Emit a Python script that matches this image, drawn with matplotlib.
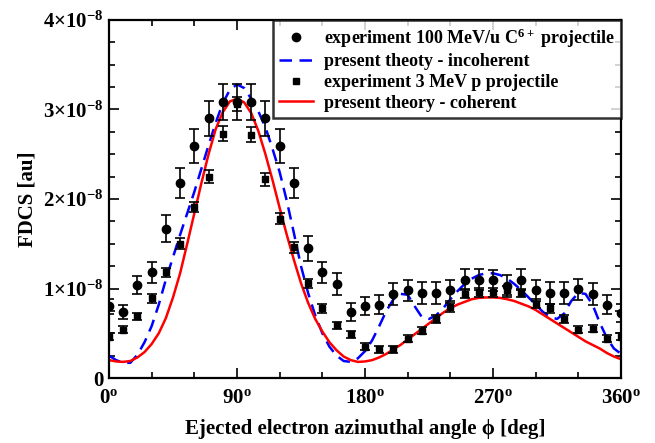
import matplotlib
matplotlib.use("Agg")
import matplotlib.pyplot as plt
from matplotlib.lines import Line2D
import numpy as np

plt.rcParams['font.family'] = ['Liberation Serif', 'DejaVu Serif']
plt.rcParams['font.weight'] = 'bold'
plt.rcParams['mathtext.fontset'] = 'custom'
plt.rcParams['mathtext.rm'] = 'Liberation Serif:bold'
plt.rcParams['mathtext.it'] = 'Liberation Serif:bold'
plt.rcParams['mathtext.bf'] = 'Liberation Serif:bold'

# data in units of 1e-8 au
angles_exp = np.arange(0, 361, 10)
carbon_fdcs = [0.80, 0.74, 1.04, 1.18, 1.67, 2.18, 2.59, 2.90, 3.08, 3.08, 3.08, 2.90,
               2.59, 2.18, 1.45, 1.18, 1.05, 0.74, 0.80, 0.82, 0.94, 0.98, 0.95, 0.95,
               0.98, 1.10, 1.10, 1.09, 1.03, 1.10, 0.98, 0.95, 0.95, 0.99, 0.94, 0.82, 0.73]
carbon_err = [0.08, 0.08, 0.10, 0.12, 0.15, 0.17, 0.19, 0.20, 0.20, 0.20, 0.20, 0.20,
              0.19, 0.17, 0.14, 0.12, 0.12, 0.10, 0.10, 0.11, 0.12, 0.12, 0.12, 0.12,
              0.12, 0.12, 0.12, 0.12, 0.12, 0.12, 0.12, 0.12, 0.12, 0.12, 0.12, 0.11, 0.10]
proton_fdcs = [0.46, 0.54, 0.69, 0.89, 1.18, 1.50, 1.91, 2.25, 2.73, 3.06, 2.72, 2.22,
               1.78, 1.46, 1.06, 0.78, 0.59, 0.49, 0.35, 0.32, 0.32, 0.44, 0.53, 0.66,
               0.79, 0.94, 0.96, 0.96, 0.98, 0.95, 0.83, 0.78, 0.66, 0.54, 0.55, 0.44, 0.46]
proton_err = [0.04, 0.04, 0.04, 0.05, 0.05, 0.06, 0.06, 0.07, 0.08, 0.08, 0.08, 0.07,
              0.06, 0.06, 0.05, 0.05, 0.04, 0.04, 0.04, 0.04, 0.04, 0.04, 0.04, 0.04,
              0.05, 0.05, 0.05, 0.05, 0.05, 0.05, 0.05, 0.05, 0.04, 0.04, 0.04, 0.04, 0.04]

angles_theory = np.arange(0, 361, 5)
incoherent = [0.25, 0.20, 0.17, 0.17, 0.26, 0.40, 0.58, 0.82, 1.10, 1.35, 1.60, 1.84,
              2.08, 2.34, 2.60, 2.85, 3.07, 3.22, 3.28, 3.24, 3.12, 2.98, 2.80, 2.56,
              2.30, 1.98, 1.62, 1.25, 0.95, 0.70, 0.50, 0.35, 0.25, 0.19, 0.18, 0.22,
              0.30, 0.42, 0.58, 0.75, 0.88, 0.94, 0.93, 0.80, 0.68, 0.66, 0.70, 0.78,
              0.88, 0.97, 1.05, 1.11, 1.15, 1.17, 1.17, 1.15, 1.11, 1.05, 0.98, 0.90,
              0.82, 0.74, 0.68, 0.66, 0.72, 0.86, 0.95, 0.94, 0.82, 0.62, 0.45, 0.33, 0.27]
coherent = [0.20, 0.185, 0.18, 0.19, 0.23, 0.29, 0.38, 0.50, 0.67, 0.90, 1.17, 1.50,
            1.84, 2.18, 2.50, 2.78, 2.97, 3.09, 3.12, 3.08, 2.96, 2.76, 2.50, 2.21,
            1.90, 1.60, 1.32, 1.06, 0.84, 0.66, 0.52, 0.40, 0.31, 0.24, 0.20, 0.18,
            0.185, 0.20, 0.23, 0.27, 0.32, 0.37, 0.43, 0.49, 0.55, 0.61, 0.67, 0.73,
            0.78, 0.82, 0.85, 0.88, 0.895, 0.90, 0.90, 0.895, 0.88, 0.86, 0.83, 0.80,
            0.76, 0.71, 0.66, 0.61, 0.56, 0.51, 0.46, 0.41, 0.37, 0.33, 0.28, 0.24, 0.21]

xtick_vals = [0, 90, 180, 270, 360]
xtick_labels = [r'$0^{\mathrm{o}}$', r'$90^{\mathrm{o}}$', r'$180^{\mathrm{o}}$',
                r'$270^{\mathrm{o}}$', r'$360^{\mathrm{o}}$']
ytick_vals = [0, 1, 2, 3, 4]
ytick_labels = ['0', r'$1{\times}10^{-8}$', r'$2{\times}10^{-8}$',
                r'$3{\times}10^{-8}$', r'$4{\times}10^{-8}$']
legend_labels = [r'experiment 100 MeV/u C$^{6+}$ projectile', 'present theoty - incoherent',
                 'experiment 3 MeV p projectile', 'present theory - coherent']

fig = plt.figure(figsize=(6.55, 4.43), dpi=100)
ax = fig.add_axes([0.1664, 0.1467, 0.7817, 0.8082])

ax.errorbar(angles_exp, carbon_fdcs, yerr=carbon_err, fmt='o', color='black',
            markersize=6, capsize=3.5, elinewidth=1.2, capthick=1.2, zorder=3)
ax.plot(angles_theory, incoherent, color='#0000ff', lw=1.8, dashes=(5, 3), zorder=2)
ax.errorbar(angles_exp, proton_fdcs, yerr=proton_err, fmt='s', color='black',
            markersize=5, capsize=3.5, elinewidth=1.2, capthick=1.2, zorder=3)
ax.plot(angles_theory, coherent, color='#ff0000', lw=1.8, zorder=2)

ax.set_xlim(0, 360)
ax.set_ylim(0, 4)
ax.set_xticks(xtick_vals)
ax.set_xticklabels(xtick_labels, fontsize=15)
ax.set_xticks(np.arange(0, 361, 30), minor=True)
ax.set_yticks(ytick_vals)
ax.set_yticklabels(ytick_labels, fontsize=15)
ax.set_yticks(np.arange(0, 4.01, 0.25), minor=True)
ax.tick_params(which='both', direction='in', top=True, right=True, width=1.2)
ax.tick_params(which='major', length=7)
ax.tick_params(axis='x', which='major', pad=7)
ax.tick_params(axis='y', which='major', pad=4)
ax.tick_params(which='minor', length=4)
for s in ax.spines.values():
    s.set_linewidth(1.6)

ax.set_xlabel('Ejected electron azimuthal angle \u03d5 [deg]', fontsize=15,
              fontweight='bold', labelpad=8)
ax.set_ylabel('FDCS [au]', fontsize=15, fontweight='bold')

# legend shows markers without error bars
handles = [Line2D([], [], ls='none', marker='o', color='black', markersize=6),
           Line2D([], [], color='#0000ff', lw=1.8, dashes=(5, 3)),
           Line2D([], [], ls='none', marker='s', color='black', markersize=5),
           Line2D([], [], color='#ff0000', lw=1.8)]
leg = ax.legend(handles, legend_labels,
                loc='upper right', fontsize=13, frameon=True, fancybox=False,
                borderaxespad=0, handlelength=1.9, labelspacing=0.2,
                borderpad=0.35, handletextpad=0.6)
leg.get_frame().set_edgecolor('black')
leg.get_frame().set_linewidth(1.8)

fig.savefig('out.png', dpi=100)
